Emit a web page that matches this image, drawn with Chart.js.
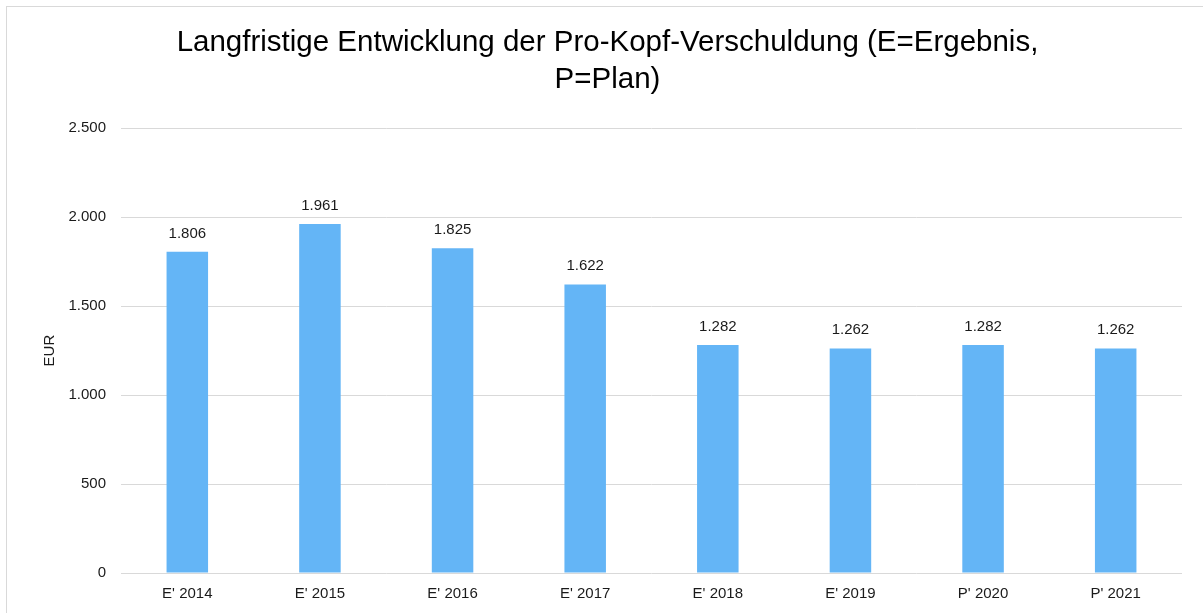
<!DOCTYPE html>
<html>
<head>
<meta charset="utf-8">
<script src="https://cdn.jsdelivr.net/npm/chart.js@4.4.1/dist/chart.umd.min.js"></script>
<style>
  html, body { margin: 0; padding: 0; background: #fff; overflow: hidden; }
  #box { position: absolute; left: 6px; top: 6px; width: 1201px; height: 620px; border: 1px solid #d9d9d9; }
  #chart { display: block; }
</style>
</head>
<body>
<div id="box"><canvas id="chart" width="1201" height="606"></canvas></div>
<script>
const labels = ["E' 2014", "E' 2015", "E' 2016", "E' 2017", "E' 2018", "E' 2019", "P' 2020", "P' 2021"];
const werte = [1806, 1961, 1825, 1622, 1282, 1262, 1282, 1262];
const titel = ['Langfristige Entwicklung der Pro-Kopf-Verschuldung (E=Ergebnis,', 'P=Plan)'];
const yMax = 2500;
const yStep = 500;

const font = 'Liberation Sans, Arial, sans-serif';

// Tausenderpunkt wie im Original
function fmt(v) {
    return String(Math.round(v)).replace(/\B(?=(\d{3})+(?!\d))/g, '.');
}

const werteLabels = {
    id: 'werteLabels',
    afterDatasetsDraw(chart) {
        const ctx = chart.ctx;
        const meta = chart.getDatasetMeta(0);
        ctx.save();
        ctx.font = '15px ' + font;
        ctx.fillStyle = '#1a1a1a';
        ctx.textAlign = 'center';
        ctx.textBaseline = 'alphabetic';
        meta.data.forEach((bar, i) => {
            ctx.fillText(fmt(werte[i]), bar.x, bar.y - 14);
        });
        ctx.restore();
    }
};

const ctx = document.querySelector('#chart').getContext('2d');

new Chart(ctx, {
    type: 'bar',
    data: {
        labels: labels,
        datasets: [{
            label: 'EUR',
            data: werte,
            backgroundColor: '#64b5f6',
            borderWidth: 0,
            categoryPercentage: 1,
            barPercentage: 0.313
        }]
    },
    options: {
        responsive: false,
        animation: false,
        layout: { padding: { left: 26, right: 26, top: 0, bottom: 0 } },
        plugins: {
            legend: { display: false },
            tooltip: { enabled: false },
            title: {
                display: true,
                text: titel,
                color: '#000',
                font: { family: font, size: 29.5, weight: 'normal', lineHeight: 1.24 },
                padding: { top: 18, bottom: 30 }
            }
        },
        scales: {
            x: {
                grid: { display: false, drawTicks: false },
                border: { display: false },
                ticks: { color: '#1a1a1a', font: { family: font, size: 15 }, padding: 12, maxRotation: 0 },
                afterFit(scale) { scale.height = 40; }
            },
            y: {
                min: 0,
                max: yMax,
                grid: { color: '#d9d9d9', lineWidth: 1, drawTicks: false },
                border: { display: false },
                ticks: {
                    stepSize: yStep,
                    color: '#1a1a1a',
                    font: { family: font, size: 15 },
                    padding: 15,
                    callback: v => fmt(v)
                },
                title: {
                    display: true,
                    text: 'EUR',
                    color: '#1a1a1a',
                    font: { family: font, size: 15 },
                    padding: { top: 8, bottom: 0 }
                },
                afterFit(scale) { scale.width = 88; }
            }
        }
    },
    plugins: [werteLabels]
});
</script>
</body>
</html>
